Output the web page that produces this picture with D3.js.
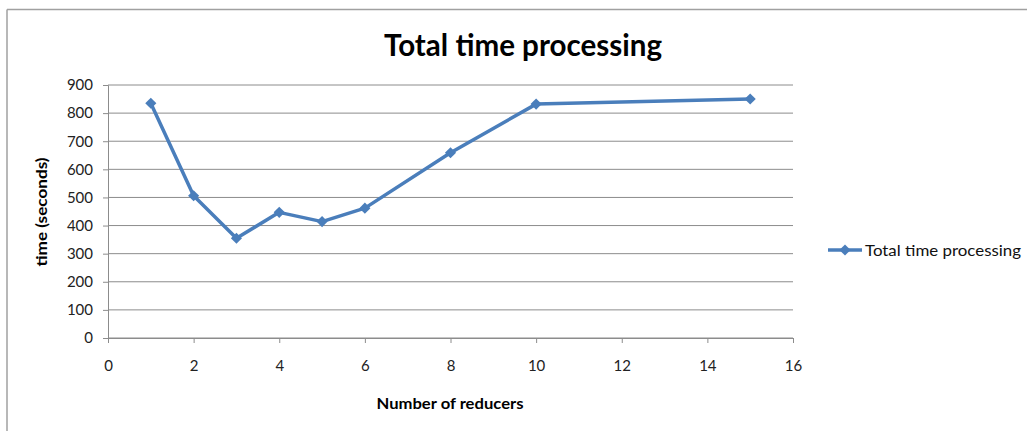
<!DOCTYPE html>
<html>
<head>
<meta charset="utf-8">
<script src="https://cdn.jsdelivr.net/npm/d3@7/dist/d3.min.js"></script>
<style>
  html, body { margin: 0; padding: 0; background: #fff; }
  svg { display: block; }
  text { font-family: Lato, "Open Sans", sans-serif; }
</style>
</head>
<body>
<svg id="chart" width="1027" height="431"></svg>
<script>
const reducers = [1, 2, 3, 4, 5, 6, 8, 10, 15];
const timeSeconds = [835, 506, 355, 447, 414, 462, 659, 832, 850];
const xTicks = [0, 2, 4, 6, 8, 10, 12, 14, 16];
const yTicks = [0, 100, 200, 300, 400, 500, 600, 700, 800, 900];
const seriesName = "Total time processing";
const chartTitle = "Total time processing";
const xTitle = "Number of reducers";
const yTitle = "time (seconds)";

const W = 1027, H = 431;
const m = { left: 108, right: W - 793, top: 85, bottom: H - 338 };
const color = "#4a7ebb";
const gridColor = "#8c8c8c";

const svg = d3.select("#chart");

// outer frame (top and left edges visible)
svg.append("line").attr("x1", 7).attr("x2", W).attr("y1", 9.5).attr("y2", 9.5)
  .attr("stroke", "#a0a0a0").attr("stroke-width", 1.5);
svg.append("line").attr("x1", 7).attr("x2", 7).attr("y1", 9.5).attr("y2", H)
  .attr("stroke", "#a0a0a0").attr("stroke-width", 1.5);

const x = d3.scaleLinear().domain([0, 16]).range([m.left, W - m.right]);
const y = d3.scaleLinear().domain([0, 900]).range([H - m.bottom, m.top]);

// gridlines
svg.append("g").selectAll("line").data(yTicks).join("line")
  .attr("x1", x(0)).attr("x2", x(16))
  .attr("y1", d => y(d)).attr("y2", d => y(d))
  .attr("stroke", gridColor).attr("stroke-width", 1);

// y axis
const yAxis = svg.append("g").attr("transform", `translate(${x(0)},0)`)
  .call(d3.axisLeft(y).tickValues(yTicks).tickSize(5).tickPadding(10).tickFormat(d3.format("d")));
yAxis.select(".domain").attr("stroke", gridColor);
yAxis.selectAll(".tick line").attr("stroke", gridColor);
yAxis.selectAll("text").attr("font-size", 15).attr("fill", "#222")
  .attr("font-family", "Lato, sans-serif");

// x axis
const xAxis = svg.append("g").attr("transform", `translate(0,${y(0)})`)
  .call(d3.axisBottom(x).tickValues(xTicks).tickSize(5).tickPadding(17).tickFormat(d3.format("d")));
xAxis.select(".domain").attr("stroke", gridColor);
xAxis.selectAll(".tick line").attr("stroke", gridColor);
xAxis.selectAll("text").attr("font-size", 15).attr("fill", "#222")
  .attr("font-family", "Lato, sans-serif");

// line
const data = reducers.map((r, i) => ({ r, t: timeSeconds[i] }));
svg.append("path").datum(data)
  .attr("d", d3.line().x(d => x(d.r)).y(d => y(d.t)))
  .attr("fill", "none").attr("stroke", color).attr("stroke-width", 3.5)
  .attr("stroke-linejoin", "round");

const marker = d3.symbol().type(d3.symbolSquare).size(62)();
svg.append("g").selectAll("path").data(data).join("path")
  .attr("d", marker)
  .attr("transform", d => `translate(${x(d.r)},${y(d.t)}) rotate(45)`)
  .attr("fill", color);

// title
svg.append("text").attr("x", 523).attr("y", 56).attr("text-anchor", "middle")
  .attr("font-size", 31).attr("font-weight", "bold").attr("fill", "#000")
  .attr("textLength", 278).attr("lengthAdjust", "spacingAndGlyphs")
  .text(chartTitle);

// axis titles
svg.append("text").attr("x", 450).attr("y", 409).attr("text-anchor", "middle")
  .attr("font-size", 15).attr("font-weight", "bold").attr("fill", "#000")
  .attr("textLength", 147).attr("lengthAdjust", "spacingAndGlyphs")
  .text(xTitle);
svg.append("text").attr("transform", "translate(47,212) rotate(-90)")
  .attr("text-anchor", "middle")
  .attr("font-size", 15).attr("font-weight", "bold").attr("fill", "#000")
  .attr("textLength", 109).attr("lengthAdjust", "spacingAndGlyphs")
  .text(yTitle);

// legend
const lg = svg.append("g");
lg.append("line").attr("x1", 828).attr("x2", 862).attr("y1", 250).attr("y2", 250)
  .attr("stroke", color).attr("stroke-width", 3.5);
lg.append("path").attr("d", marker)
  .attr("transform", "translate(845,250) rotate(45)").attr("fill", color);
lg.append("text").attr("x", 865).attr("y", 255.5).attr("font-size", 16).attr("fill", "#111")
  .attr("textLength", 156).attr("lengthAdjust", "spacingAndGlyphs")
  .text(seriesName);
</script>
</body>
</html>
